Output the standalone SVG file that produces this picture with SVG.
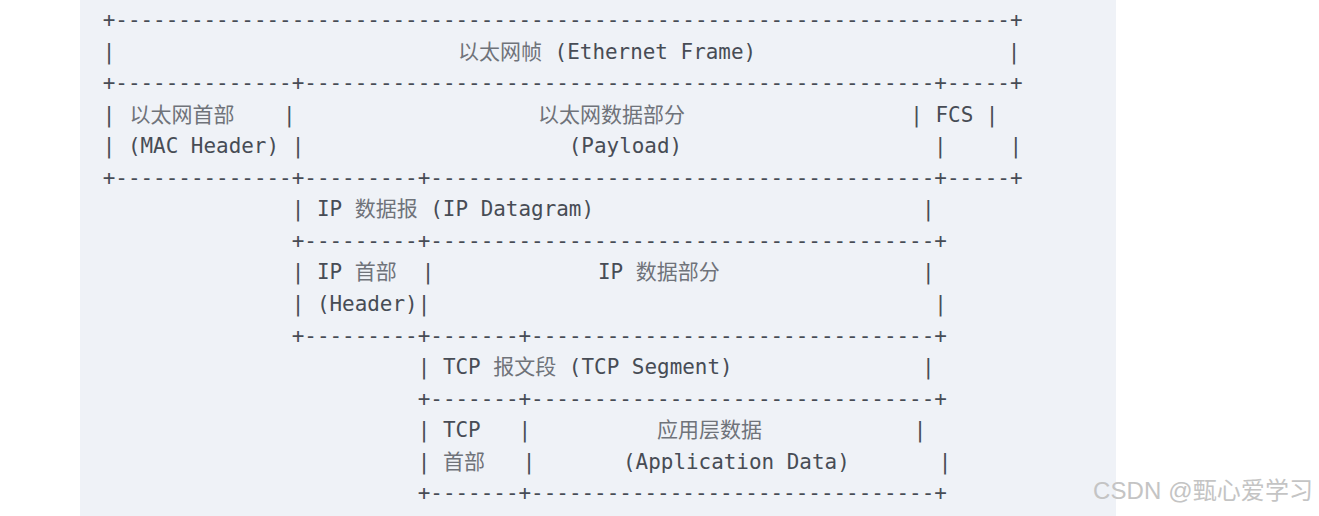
<svg xmlns="http://www.w3.org/2000/svg" width="1319" height="516" viewBox="0 0 1319 516" xml:space="preserve">
<style>
.t{font-family:"DejaVu Sans Mono","Noto Sans CJK SC",monospace;font-size:20.93px;fill:#474c55;white-space:pre}
.c{fill:#6f737a;font-family:"Noto Sans CJK SC",sans-serif;font-size:21px}
.wm{font-family:"Liberation Sans","Noto Sans CJK SC",sans-serif;font-size:24px;fill:#c4c4c4}
</style>
<rect id="panel" x="80" y="0" width="1036" height="516" fill="#eff2f7"/>
<g id="ethernet-frame">
<text class="t" x="102.7" y="27" textLength="919.8">+-----------------------------------------------------------------------+</text>
<text class="t" y="58.5"><tspan x="102.7">|</tspan><tspan x="458" class="c">以太网帧</tspan><tspan> (Ethernet Frame)</tspan><tspan x="1007.7">|</tspan></text>
<text class="t" x="102.7" y="90.1" textLength="919.8">+--------------+--------------------------------------------------+-----+</text>
<text class="t" y="121.6"><tspan x="102.7">|</tspan><tspan x="129.5" class="c">以太网首部</tspan><tspan x="283">|</tspan><tspan x="538" class="c">以太网数据部分</tspan><tspan x="910.3">| FCS |</tspan></text>
<text class="t" x="102.7" y="153.2">| (MAC Header) |                     (Payload)                    |     |</text>
<text class="t" x="102.7" y="184.7" textLength="919.8">+--------------+---------+----------------------------------------+-----+</text>
</g>
<g id="ip-datagram">
<text class="t" y="216.3"><tspan x="291.7">| IP </tspan><tspan class="c">数据报</tspan><tspan> (IP Datagram)</tspan><tspan x="922">|</tspan></text>
<text class="t" x="291.7" y="247.8" textLength="655.2">+---------+----------------------------------------+</text>
<text class="t" y="279.4"><tspan x="291.7">| IP </tspan><tspan class="c">首部</tspan><tspan>  |</tspan><tspan x="597.9">IP </tspan><tspan class="c">数据部分</tspan><tspan x="922">|</tspan></text>
<text class="t" y="311"><tspan x="291.7">| (Header)|</tspan><tspan x="934.3">|</tspan></text>
<text class="t" x="291.7" y="342.5" textLength="655.2">+---------+-------+--------------------------------+</text>
</g>
<g id="tcp-segment">
<text class="t" y="374"><tspan x="417.7">| TCP </tspan><tspan class="c">报文段</tspan><tspan> (TCP Segment)</tspan><tspan x="922">|</tspan></text>
<text class="t" x="417.7" y="405.6" textLength="529.2">+-------+--------------------------------+</text>
<text class="t" y="437.2"><tspan x="417.7">| TCP   |</tspan><tspan x="657" class="c">应用层数据</tspan><tspan x="913.7">|</tspan></text>
<text class="t" y="468.7"><tspan x="417.7">| </tspan><tspan class="c">首部</tspan><tspan>   |</tspan><tspan x="623">(Application Data)</tspan><tspan x="938.7">|</tspan></text>
<text class="t" x="417.7" y="500.3" textLength="529.2">+-------+--------------------------------+</text>
</g>
<text class="wm" x="1093" y="499" textLength="220">CSDN @甄心爱学习</text>
</svg>
